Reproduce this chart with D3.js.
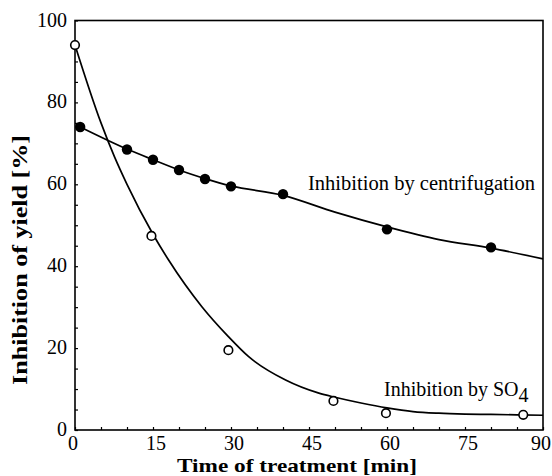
<!DOCTYPE html>
<html>
<head>
<meta charset="utf-8">
<script src="https://cdn.jsdelivr.net/npm/d3@7"></script>
<style>
  body { margin: 0; background: #fff; }
  text { font-family: "Liberation Serif", "DejaVu Serif", serif; fill: #000; }
</style>
</head>
<body>
<script>
// measured points
var centTime = [1, 10, 15, 20, 25, 30, 40, 60, 80];
var centValue = [74, 68.5, 66, 63.5, 61.3, 59.5, 57.6, 49, 44.6];
var so4Time = [0, 14.7, 29.5, 49.7, 59.8, 86.2];
var so4Value = [94, 47.4, 19.5, 7.1, 4.1, 3.7];

// fitted curves
var centFitTime = [1, 10, 15, 20, 25, 30, 40, 50, 60, 70, 80, 90];
var centFitValue = [74, 68.6, 66, 63.5, 61.4, 59.6, 57.3, 53.2, 49.6, 46.5, 44.4, 41.8];
var so4FitTime = [0, 5, 7.6, 10, 15, 18, 24.4, 29.5, 33.4, 40.5, 46.9, 50, 55, 60, 65, 70, 75, 80, 90];
var so4FitValue = [94, 75, 66.7, 60, 47.8, 41.5, 30.1, 22.8, 17.9, 12.2, 9.0, 8.0, 6.6, 5.4, 4.5, 4.1, 3.9, 3.8, 3.6];

var xTicks = [0, 15, 30, 45, 60, 75, 90];
var yTicks = [0, 20, 40, 60, 80, 100];

var width = 552,
    height = 476;

var svg = d3.select("body").append("svg")
    .attr("width", width)
    .attr("height", height);

var x = d3.scaleLinear().domain([0, 90]).range([75, 543]);
var y = d3.scaleLinear().domain([0, 100]).range([430, 20.5]);

// frame
svg.append("rect")
    .attr("x", x(0)).attr("y", y(100))
    .attr("width", x(90) - x(0)).attr("height", y(0) - y(100))
    .attr("fill", "none").attr("stroke", "#000").attr("stroke-width", 1.6);

// axes with small inward ticks
svg.append("g")
    .attr("transform", "translate(0," + y(0) + ")")
    .call(d3.axisBottom(x).tickValues(d3.range(0, 91, 5)).tickSize(-3).tickFormat(""));
svg.append("g")
    .attr("transform", "translate(" + x(0) + ",0)")
    .call(d3.axisLeft(y).tickValues(d3.range(0, 101, 5)).tickSize(-3).tickFormat(""));
svg.selectAll(".domain").remove();
svg.selectAll(".tick line").attr("stroke", "#000").attr("stroke-width", 1.2);

svg.selectAll(".xlab")
    .data(xTicks)
    .enter().append("text")
    .attr("class", "xlab")
    .attr("x", function (d) { return d == 0 ? x(d) - 2 : (d == 90 ? x(d) - 2 : x(d) + 3); })
    .attr("y", 450)
    .attr("text-anchor", "middle")
    .style("font-size", "20px")
    .text(function (d) { return d; });

svg.selectAll(".ylab")
    .data(yTicks)
    .enter().append("text")
    .attr("class", "ylab")
    .attr("x", x(0) - 8)
    .attr("y", function (d) { return y(d) + 6; })
    .attr("text-anchor", "end")
    .style("font-size", "20px")
    .text(function (d) { return d; });

// axis titles
svg.append("text")
    .attr("x", 297).attr("y", 472)
    .attr("text-anchor", "middle")
    .attr("textLength", 240).attr("lengthAdjust", "spacingAndGlyphs")
    .style("font-size", "19px").style("font-weight", "bold")
    .text("Time of treatment [min]");

svg.append("text")
    .attr("transform", "translate(27,260) rotate(-90)")
    .attr("text-anchor", "middle")
    .attr("textLength", 250).attr("lengthAdjust", "spacingAndGlyphs")
    .style("font-size", "20px").style("font-weight", "bold")
    .text("Inhibition of yield [%]");

// fitted lines
var line = d3.line()
    .x(function (d) { return x(d[0]); })
    .y(function (d) { return y(d[1]); })
    .curve(d3.curveMonotoneX);

svg.append("path")
    .attr("d", line(d3.zip(centFitTime, centFitValue)))
    .attr("fill", "none").attr("stroke", "#000").attr("stroke-width", 1.7);

svg.append("path")
    .attr("d", line(d3.zip(so4FitTime, so4FitValue)))
    .attr("fill", "none").attr("stroke", "#000").attr("stroke-width", 1.7);

// markers
svg.selectAll(".cent")
    .data(d3.zip(centTime, centValue))
    .enter().append("circle")
    .attr("class", "cent")
    .attr("cx", function (d) { return x(d[0]); })
    .attr("cy", function (d) { return y(d[1]); })
    .attr("r", 5.2)
    .attr("fill", "#000");

svg.selectAll(".so4")
    .data(d3.zip(so4Time, so4Value))
    .enter().append("circle")
    .attr("class", "so4")
    .attr("cx", function (d) { return x(d[0]); })
    .attr("cy", function (d) { return y(d[1]); })
    .attr("r", 4.3)
    .attr("fill", "#fff")
    .attr("stroke", "#000")
    .attr("stroke-width", 1.6);

// curve labels
svg.append("text")
    .attr("x", 308).attr("y", 190)
    .attr("textLength", 227).attr("lengthAdjust", "spacingAndGlyphs")
    .style("font-size", "20px")
    .text("Inhibition by centrifugation");

var so4Label = svg.append("text")
    .attr("x", 384).attr("y", 396)
    .style("font-size", "20px")
    .text("Inhibition by SO");
so4Label.append("tspan")
    .attr("dy", 6)
    .text("4");
</script>
</body>
</html>
